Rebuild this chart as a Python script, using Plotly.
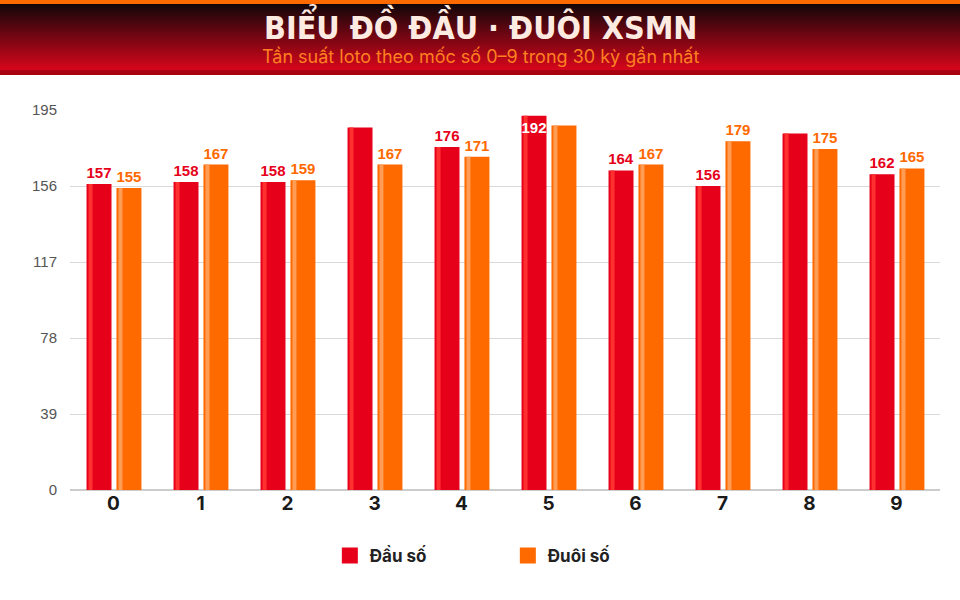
import plotly.graph_objects as go

# data
digits = ["0", "1", "2", "3", "4", "5", "6", "7", "8", "9"]
dau_so = [157, 158, 158, 186, 176, 192, 164, 156, 183, 162]
duoi_so = [155, 167, 159, 167, 171, 187, 167, 179, 175, 165]
y_ticks = [0, 39, 78, 117, 156, 195]

RED = "#e6001a"
RED_LIGHT = "#ff3030"
ORANGE = "#ff6a00"
ORANGE_LIGHT = "#ff9c55"

BAR_W = 0.287

W, H = 960, 600
ML, MR, MT, MB = 70, 20, 110, 110
PW, PH = W - ML - MR, H - MT - MB


def px_x(px):
    # page pixel -> paper x
    return (px - ML) / PW


def px_y(py):
    # page pixel -> paper y
    return (H - MB - py) / PH


def label_style(values, color):
    pos, cols = [], []
    for v in values:
        if v >= 190:
            pos.append("inside")
            cols.append("white")
        elif v >= 180:
            pos.append("outside")
            cols.append("white")
        else:
            pos.append("outside")
            cols.append(color)
    return pos, cols


fig = go.Figure()

for vals, off, color, light, name in [
    (dau_so, -0.31, RED, RED_LIGHT, "Đầu số"),
    (duoi_so, 0.034, ORANGE, ORANGE_LIGHT, "Đuôi số"),
]:
    fig.add_trace(go.Bar(
        x=digits, y=vals, offset=off, width=BAR_W,
        marker=dict(color=color, line_width=0),
        showlegend=False, hoverinfo="skip",
    ))
    # light stripe on the left side of each bar
    fig.add_trace(go.Bar(
        x=digits, y=vals, offset=off + 0.023, width=0.046,
        marker=dict(color=light, line_width=0),
        showlegend=False, hoverinfo="skip",
    ))
    # value labels on top of everything
    pos, cols = label_style(vals, color)
    fig.add_trace(go.Bar(
        x=digits, y=vals, offset=off, width=BAR_W,
        marker=dict(color="rgba(0,0,0,0)", line_width=0),
        text=[str(v) for v in vals], textposition=pos, textangle=0,
        insidetextanchor="end", constraintext="none",
        textfont=dict(family="Liberation Sans, Arial", size=15, color=cols, weight="bold"),
        showlegend=False, hoverinfo="skip",
    ))
    # legend entry with a bigger square
    fig.add_trace(go.Scatter(
        x=[None], y=[None], mode="markers", name=name,
        marker=dict(symbol="square", size=19, color=color),
    ))

# header band: orange strip + dark-to-red gradient
X0, X1 = px_x(0), px_x(W)
shapes = [dict(type="rect", xref="paper", yref="paper", x0=X0, x1=X1,
               y0=px_y(4), y1=px_y(0), fillcolor=ORANGE, line_width=0, layer="above")]
steps = 33
top, bottom = 4, 70
c0 = (22, 6, 10)
c1 = (212, 6, 28)
for i in range(steps):
    t = i / (steps - 1)
    c = tuple(int(c0[k] + (c1[k] - c0[k]) * t) for k in range(3))
    ya = top + (bottom - top) * i / steps
    yb = top + (bottom - top) * (i + 1) / steps + 0.5
    shapes.append(dict(type="rect", xref="paper", yref="paper", x0=X0, x1=X1,
                       y0=px_y(yb), y1=px_y(ya),
                       fillcolor="rgb(%d,%d,%d)" % c, line_width=0, layer="below"))
shapes.append(dict(type="rect", xref="paper", yref="paper", x0=X0, x1=X1,
                   y0=px_y(75), y1=px_y(70), fillcolor="#a8000f",
                   line_width=0, layer="below"))

fig.update_layout(
    width=W, height=H,
    margin=dict(l=ML, r=MR, t=MT, b=MB, autoexpand=False),
    paper_bgcolor="white", plot_bgcolor="white",
    barmode="overlay",
    shapes=shapes,
    font=dict(family="Liberation Sans, Arial", color="#555"),
    legend=dict(orientation="h", xref="container", yref="container",
                x=0.529, xanchor="center", y=44 / H, yanchor="middle",
                entrywidth=133, entrywidthmode="pixels",
                font=dict(family="Inter, Roboto", size=17, color="#222", weight="bold"),
                itemclick=False),
    annotations=[
        dict(text="BIỂU ĐỒ ĐẦU · ĐUÔI XSMN", xref="paper", yref="paper",
             x=px_x(W / 2), y=px_y(25), xanchor="center", yanchor="middle",
             showarrow=False,
             font=dict(family="DejaVu Sans Condensed, Liberation Sans Narrow",
                       size=32, color="#fdebe2", weight="bold")),
        dict(text="Tần suất loto theo mốc số 0–9 trong 30 kỳ gần nhất",
             xref="paper", yref="paper", x=px_x(W / 2), y=px_y(56),
             xanchor="center", yanchor="middle", showarrow=False,
             font=dict(family="Inter, Roboto", size=18, color="#ff8020")),
    ],
)

fig.update_yaxes(range=[0, 195], tickvals=y_ticks, showgrid=True,
                 gridcolor="#d9d9d9", gridwidth=1, zeroline=True,
                 zerolinecolor="#cccccc", ticks="", ticklabelstandoff=12,
                 tickfont=dict(size=15, color="#555"))
fig.update_xaxes(type="category", showgrid=False, ticks="",
                 tickfont=dict(family="Inter, Roboto", size=19, color="#1a1a1a", weight="bold"))

fig.write_html("out.html", config={"displayModeBar": False},
               post_script="document.body.style.margin='0';")
